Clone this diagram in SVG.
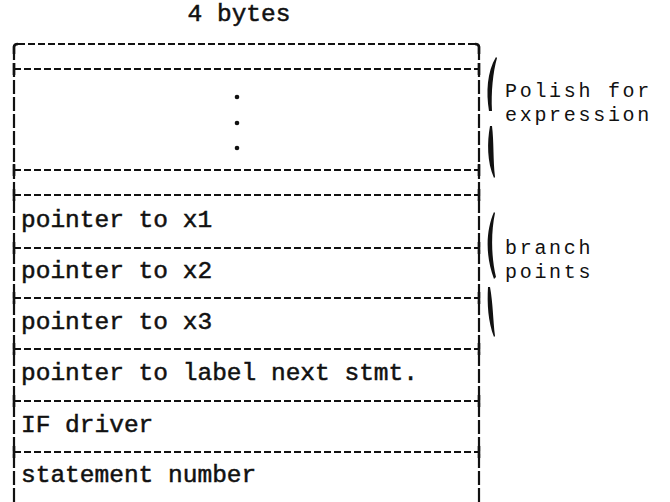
<svg xmlns="http://www.w3.org/2000/svg" width="670" height="502" viewBox="0 0 670 502">
<style>
.t{font-family:"Liberation Mono","Courier New",monospace;font-size:24.5px;fill:#111;stroke:#111;stroke-width:0.5}
.l{font-family:"Liberation Mono","Courier New",monospace;font-size:20px;letter-spacing:2.7px;fill:#111}
.h{stroke:#111;stroke-width:2;stroke-dasharray:7 3;fill:none}
.v{stroke:#111;stroke-width:2.2;stroke-dasharray:14 3;fill:none}
.tick{stroke:#111;stroke-width:2.6;fill:none}
.brace{fill:#111;stroke:none}
</style>
<rect width="670" height="502" fill="#fff"/>
<text id="width-label" class="t" x="239" y="21" text-anchor="middle">4 bytes</text>
<g id="frame">
  <line class="v" x1="14" y1="46" x2="14" y2="502"/>
  <line class="v" x1="479" y1="46" x2="479" y2="502"/>
  <path class="tick" d="M14,54 V47 Q14,44 18,44 M479,54 V47 Q479,44 475,44"/>
</g>
<g id="dividers">
  <line class="h" x1="18" y1="44" x2="475" y2="44"/>
  <line class="h" x1="14" y1="69" x2="479" y2="69"/>
  <line class="h" x1="14" y1="170" x2="479" y2="170"/>
  <line class="h" x1="14" y1="195" x2="479" y2="195"/>
  <line class="h" x1="14" y1="248" x2="479" y2="248"/>
  <line class="h" x1="14" y1="298" x2="479" y2="298"/>
  <line class="h" x1="14" y1="349" x2="479" y2="349"/>
  <line class="h" x1="14" y1="401" x2="479" y2="401"/>
  <line class="h" x1="14" y1="452" x2="479" y2="452"/>
  <path class="tick" d="M14,63 V75 M479,63 V75 M14,164 V176 M479,164 V176 M14,189 V201 M479,189 V201 M14,242 V254 M479,242 V254 M14,292 V304 M479,292 V304 M14,343 V355 M479,343 V355 M14,395 V407 M479,395 V407 M14,446 V458 M479,446 V458"/>
</g>
<g id="row-polish-top"></g>
<g id="row-polish">
  <circle cx="237" cy="97" r="2.3" fill="#111"/>
  <circle cx="237" cy="123" r="2.3" fill="#111"/>
  <circle cx="237" cy="148" r="2.3" fill="#111"/>
</g>
<g id="row-polish-end"></g>
<g id="row-x1"><text class="t" x="21" y="227">pointer to x1</text></g>
<g id="row-x2"><text class="t" x="21" y="278">pointer to x2</text></g>
<g id="row-x3"><text class="t" x="21" y="329">pointer to x3</text></g>
<g id="row-label"><text class="t" x="21" y="380">pointer to label next stmt.</text></g>
<g id="row-if"><text class="t" x="21" y="432">IF driver</text></g>
<g id="row-stmt"><text class="t" x="21" y="482">statement number</text></g>
<g id="brace-polish">
  <path class="brace" d="M496,57 C487,72 486,92 489,111 L492,111 C491,92 493,72 497,58 Z"/>
  <path class="brace" d="M490,126 C487,142 487,162 494,178 L495,177 C493,160 494,142 492,126 Z"/>
  <text class="l" x="505" y="97"><tspan x="505" y="97">Polish for</tspan><tspan x="505" y="121">expression</tspan></text>
</g>
<g id="brace-branch">
  <path class="brace" d="M494,212 C486,230 485,255 494,279 L496,277 C491,256 491,232 495,213 Z"/>
  <path class="brace" d="M488,287 C487,303 488,322 494,337 L495,336 C493,320 493,303 490,287 Z"/>
  <text class="l" x="505" y="254"><tspan x="505" y="254">branch</tspan><tspan x="505" y="278">points</tspan></text>
</g>
</svg>
